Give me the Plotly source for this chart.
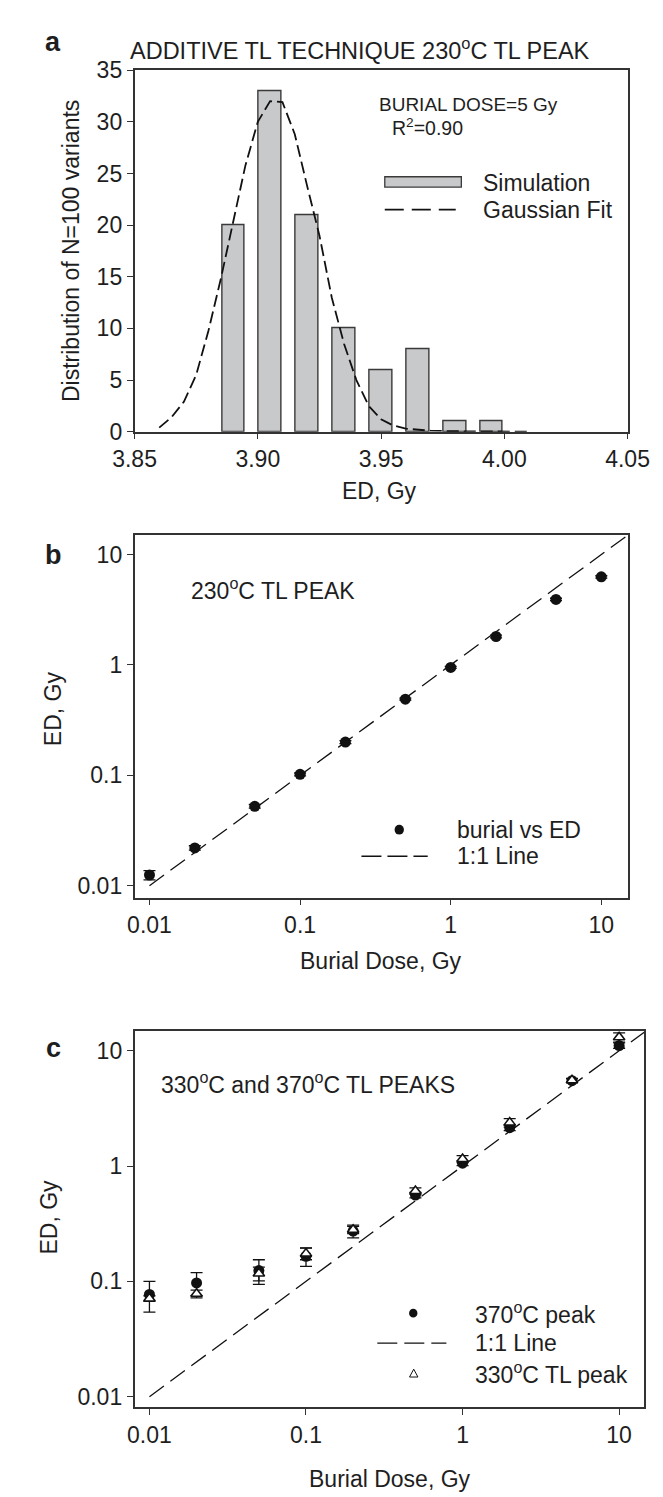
import plotly.graph_objects as go

# ---------------- data ----------------
# panel a: histogram of ED (simulation) and gaussian fit
bar_x = [3.890, 3.905, 3.920, 3.935, 3.950, 3.965, 3.980, 3.995]
bar_y = [20, 33, 21, 10, 6, 8, 1, 1]
gauss_x = [3.860, 3.865, 3.870, 3.875, 3.880, 3.885, 3.890, 3.895, 3.900, 3.905,
           3.910, 3.915, 3.920, 3.925, 3.930, 3.935, 3.940, 3.945, 3.950, 3.955,
           3.960, 3.970, 3.980, 3.990, 4.000, 4.010]
gauss_y = [0.4, 1.4, 2.9, 5.5, 9.8, 14.8, 20.3, 25.8, 30.0, 32.0,
           31.9, 28.8, 23.8, 19.0, 13.0, 8.5, 5.0, 2.5, 1.2, 0.6,
           0.3, 0.1, 0.05, 0.02, 0.01, 0.0]
a_xticks = [3.85, 3.90, 3.95, 4.00, 4.05]
a_xticktext = ["3.85", "3.90", "3.95", "4.00", "4.05"]
a_yticks = [0, 5, 10, 15, 20, 25, 30, 35]

# panel b: burial dose vs ED, 230 C peak
burial = [0.01, 0.02, 0.05, 0.1, 0.2, 0.5, 1, 2, 5, 10]
ed_230 = [0.0125, 0.022, 0.0524, 0.102, 0.20, 0.49, 0.95, 1.81, 3.92, 6.28]
ed_230_err = [0.0012, 0.001, 0.002, 0.003, 0.006, 0.01, 0.02, 0.05, 0.1, 0.15]

# panel c: 370 C and 330 C peaks
ed_370 = [0.077, 0.097, 0.124, 0.165, 0.273, 0.56, 1.06, 2.15, 5.5, 11.1]
ed_370_err = [0.023, 0.022, 0.030, 0.030, 0.035, 0.03, 0.05, 0.12, 0.2, 0.6]
ed_330 = [0.071, 0.078, 0.117, 0.174, 0.280, 0.607, 1.15, 2.38, 5.55, 13.1]
ed_330_err = [0.004, 0.006, 0.016, 0.020, 0.020, 0.04, 0.08, 0.20, 0.2, 1.2]

one_to_one = [0.01, 16]
log_ticks = [0.01, 0.1, 1, 10]
log_ticktext = ["0.01", "0.1", "1", "10"]

# ---------------- layout helpers ----------------
W, H = 663, 1497
FONT = "Liberation Sans, Arial, Helvetica, sans-serif"
INK = "#1e1e1e"
LINE = "#333333"


def px(x):
    return x / W


def py(y):
    return 1 - y / H


fig = go.Figure()

# ---- panel a ----
fig.add_trace(go.Bar(x=bar_x, y=bar_y, width=0.009,
                     marker=dict(color="#c8c9cb", line=dict(color="#3a3a3a", width=1.4)),
                     xaxis="x", yaxis="y", showlegend=False))
fig.add_trace(go.Scatter(x=gauss_x, y=gauss_y, mode="lines",
                         line=dict(color="#111111", width=1.8, dash="12px,5px"),
                         xaxis="x", yaxis="y", showlegend=False))

# ---- panel b ----
fig.add_trace(go.Scatter(x=one_to_one, y=one_to_one, mode="lines",
                         line=dict(color="#111111", width=1.3, dash="18px,8px"),
                         xaxis="x2", yaxis="y2", showlegend=False))
fig.add_trace(go.Scatter(x=burial, y=ed_230, mode="markers",
                         marker=dict(color="#111111", size=11, symbol="circle"),
                         error_y=dict(type="data", array=ed_230_err, color="#111111",
                                      thickness=1.3, width=6),
                         xaxis="x2", yaxis="y2", showlegend=False))

# ---- panel c ----
fig.add_trace(go.Scatter(x=one_to_one, y=one_to_one, mode="lines",
                         line=dict(color="#111111", width=1.3, dash="18px,8px"),
                         xaxis="x3", yaxis="y3", showlegend=False))
fig.add_trace(go.Scatter(x=burial, y=ed_370, mode="markers",
                         marker=dict(color="#111111", size=11, symbol="circle"),
                         error_y=dict(type="data", array=ed_370_err, color="#111111",
                                      thickness=1.3, width=6),
                         xaxis="x3", yaxis="y3", showlegend=False))
fig.add_trace(go.Scatter(x=burial, y=ed_330, mode="markers",
                         marker=dict(color="white", size=10, symbol="triangle-up",
                                     line=dict(color="#111111", width=1.6)),
                         error_y=dict(type="data", array=ed_330_err, color="#111111",
                                      thickness=1.3, width=6),
                         xaxis="x3", yaxis="y3", showlegend=False))

axis_common = dict(showline=True, linecolor=LINE, linewidth=1.5, mirror=True,
                   ticks="outside", ticklen=6, tickcolor=LINE, tickwidth=1.3,
                   showgrid=False, zeroline=False,
                   tickfont=dict(family=FONT, size=23, color=INK))

fig.update_layout(
    width=W, height=H, margin=dict(l=0, r=0, t=0, b=0),
    paper_bgcolor="white", plot_bgcolor="white",
    font=dict(family=FONT, color=INK),
    xaxis=dict(domain=[px(112), px(640)], anchor="y", range=[3.85, 4.05],
               tickmode="array", tickvals=a_xticks, ticktext=a_xticktext, **axis_common),
    yaxis=dict(domain=[py(418), py(50)], anchor="x", range=[0, 35],
               tickmode="array", tickvals=a_yticks, **axis_common),
    xaxis2=dict(domain=[px(112), px(640)], anchor="y2", type="log", range=[-2.099, 1.174],
                tickmode="array", tickvals=log_ticks, ticktext=log_ticktext, **axis_common),
    yaxis2=dict(domain=[py(892), py(523)], anchor="x2", type="log", range=[-2.107, 1.178],
                tickmode="array", tickvals=log_ticks, ticktext=log_ticktext, **axis_common),
    xaxis3=dict(domain=[px(112), px(658)], anchor="y3", type="log", range=[-2.095, 1.161],
                tickmode="array", tickvals=log_ticks, ticktext=log_ticktext, **axis_common),
    yaxis3=dict(domain=[py(1411), py(1028)], anchor="x3", type="log", range=[-2.094, 1.170],
                tickmode="array", tickvals=log_ticks, ticktext=log_ticktext, **axis_common),
    bargap=0,
)

annotations = []
shapes = []


def text(x, y, s, size=23, xanchor="left", angle=0, family=FONT):
    annotations.append(dict(x=px(x), y=py(y), xref="paper", yref="paper", text=s,
                            showarrow=False, xanchor=xanchor, yanchor="middle",
                            textangle=angle,
                            font=dict(family=family, size=size, color=INK)))


# panel labels
BOLD = "Liberation Sans, Arial, sans-serif"
text(25, 21, "<b>a</b>", size=27, xanchor="center", family=BOLD)
text(25, 543, "<b>b</b>", size=27, xanchor="center", family=BOLD)
text(25, 1045, "<b>c</b>", size=27, xanchor="center", family=BOLD)

# panel a texts
text(353, 29, "ADDITIVE TL TECHNIQUE 230<sup>o</sup>C TL PEAK", size=23.5, xanchor="center")
text(44, 234, "Distribution of N=100 variants", size=23, xanchor="center", angle=-90)
text(374, 478, "ED, Gy", size=23, xanchor="center")
text(372, 85, "BURIAL DOSE=5 Gy", size=19)
text(386, 108, "R<sup>2</sup>=0.90", size=19.5)
shapes.append(dict(type="rect", xref="paper", yref="paper", x0=px(380), x1=px(462),
                   y0=py(169), y1=py(158.5), fillcolor="#c8c9cb",
                   line=dict(color="#3a3a3a", width=1.3)))
text(483, 165, "Simulation", size=23)
shapes.append(dict(type="line", xref="paper", yref="paper", x0=px(380), x1=px(456),
                   y0=py(192), y1=py(192), line=dict(color="#111111", width=1.8, dash="19px,8px")))
text(483, 192, "Gaussian Fit", size=23)

# panel b texts
text(170, 578, "230<sup>o</sup>C TL PEAK", size=23)
text(25, 700, "ED, Gy", size=23, xanchor="center", angle=-90)
text(376, 957, "Burial Dose, Gy", size=23, xanchor="center")
shapes.append(dict(type="circle", xref="paper", yref="paper", x0=px(390.5), x1=px(400.5),
                   y0=py(828), y1=py(818), fillcolor="#111111", line=dict(width=0)))
text(455, 823, "burial vs ED", size=23)
shapes.append(dict(type="line", xref="paper", yref="paper", x0=px(355), x1=px(426),
                   y0=py(850), y1=py(850), line=dict(color="#111111", width=1.3, dash="20px,6px")))
text(455, 850, "1:1 Line", size=23)

# panel c texts
text(138, 1081, "330<sup>o</sup>C and 370<sup>o</sup>C TL PEAKS", size=23)
text(20, 1217, "ED, Gy", size=23, xanchor="center", angle=-90)
text(386, 1484, "Burial Dose, Gy", size=23, xanchor="center")
shapes.append(dict(type="circle", xref="paper", yref="paper", x0=px(406), x1=px(415),
                   y0=py(1319.5), y1=py(1310.5), fillcolor="#111111", line=dict(width=0)))
text(475, 1315, "370<sup>o</sup>C peak", size=23)
shapes.append(dict(type="line", xref="paper", yref="paper", x0=px(372), x1=px(446),
                   y0=py(1345.5), y1=py(1345.5), line=dict(color="#111111", width=1.3, dash="20px,7px")))
text(475, 1345, "1:1 Line", size=23)
tri = "M {:.5f},{:.5f} L {:.5f},{:.5f} L {:.5f},{:.5f} Z".format(
    px(406.5), py(1380), px(415.5), py(1380), px(411), py(1372))
shapes.append(dict(type="path", xref="paper", yref="paper", path=tri,
                   fillcolor="white", line=dict(color="#111111", width=1)))
text(475, 1376, "330<sup>o</sup>C TL peak", size=23)

fig.update_layout(annotations=annotations, shapes=shapes)
fig.write_html("out.html")
